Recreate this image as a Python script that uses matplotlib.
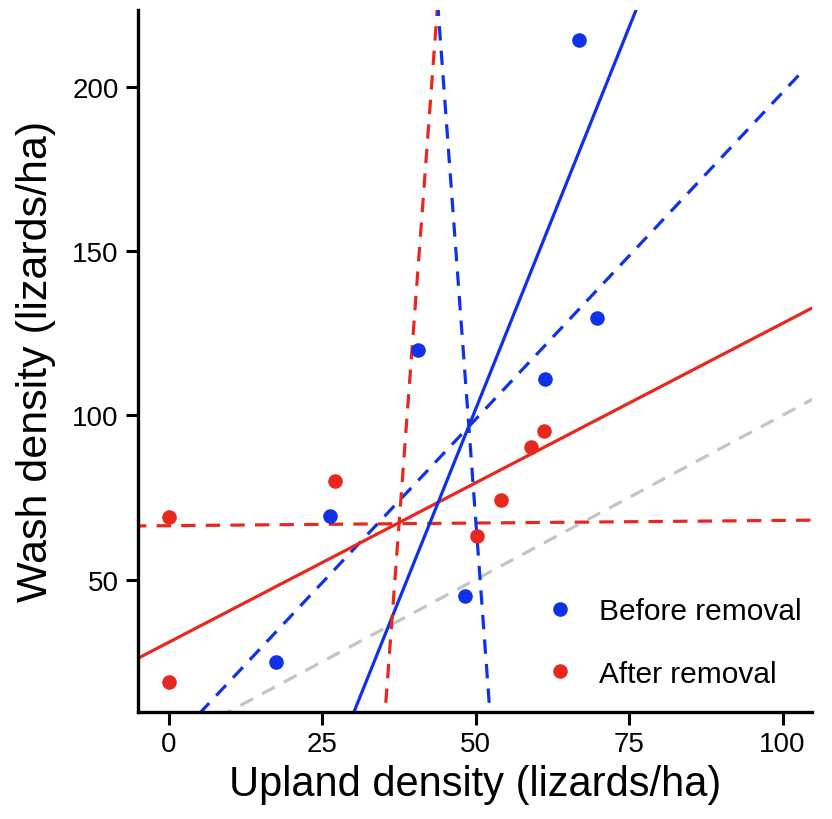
import numpy as np
import matplotlib
matplotlib.use("Agg")
import matplotlib.pyplot as plt

plt.rcParams["font.family"] = ["Liberation Sans", "DejaVu Sans"]

# lizard densities (lizards/ha)
before_upland = [17.5, 26.3, 40.6, 48.3, 61.3, 66.9, 69.8]
before_wash = [25.0, 69.3, 120.0, 45.0, 111.2, 214.3, 129.7]
after_upland = [0, 0, 27.0, 50.2, 54.1, 59.0, 61.2]
after_wash = [69.1, 18.9, 79.9, 63.3, 74.1, 90.4, 95.3]

blue = "#0f32e8"
red = "#e8281e"
gray = "#c4c4c4"

# fits of wash on upland: y = a + b*x
yx_names = ["before_yx", "after_yx", "one_to_one", "after_solid", "before_solid"]
yx_a = [-0.7, 66.4, 0.0, 30.9, -130.6]
yx_b = [1.99, 0.016, 1.0, 0.971, 4.65]
yx_xmax = [103.2, 105, 105, 105, 105]
yx_col = [blue, red, gray, red, blue]
yx_ls = ["--", "--", "--", "-", "-"]

# fits of upland on wash: x = a + b*y
xy_a = [34.86, 52.69]
xy_b = [0.0397, -0.0394]
xy_col = [red, blue]

fig = plt.figure(figsize=(8.32, 8.20), dpi=100)
ax = fig.add_axes([0.166, 0.131, 0.81, 0.856])

dash = (0, (4.5, 3.2))
for a, b, xm, c, ls in zip(yx_a, yx_b, yx_xmax, yx_col, yx_ls):
    xs = np.array([-6, xm])
    ax.plot(xs, a + b * xs, color=c, lw=2.3,
            ls=dash if ls == "--" else "-", zorder=2)

for a, b, c in zip(xy_a, xy_b, xy_col):
    ys = np.array([5, 230])
    ax.plot(a + b * ys, ys, color=c, lw=2.3, ls=dash, zorder=2)

ax.plot(before_upland, before_wash, "o", color=blue, ms=10.5, mec="none",
        label="Before removal", zorder=3)
ax.plot(after_upland, after_wash, "o", color=red, ms=10.5, mec="none",
        label="After removal", zorder=3)

ax.set_xlim(-5, 104.8)
ax.set_ylim(9.8, 223.5)
ax.set_xticks([0, 25, 50, 75, 100])
ax.set_yticks([50, 100, 150, 200])

for s in ["top", "right"]:
    ax.spines[s].set_visible(False)
for s in ["left", "bottom"]:
    ax.spines[s].set_linewidth(2.4)
ax.tick_params(width=2.2, length=9, labelsize=20, pad=5)

ax.set_xlabel("Upland density (lizards/ha)", fontsize=30, labelpad=5)
ax.set_ylabel("Wash density (lizards/ha)", fontsize=31, labelpad=12)

ax.legend(loc="upper left", bbox_to_anchor=(0.604, 0.163), frameon=False,
          fontsize=21.5, handletextpad=0.8, labelspacing=1.15,
          borderaxespad=0, borderpad=0, handlelength=1.0)

fig.savefig("out.png", dpi=100)
